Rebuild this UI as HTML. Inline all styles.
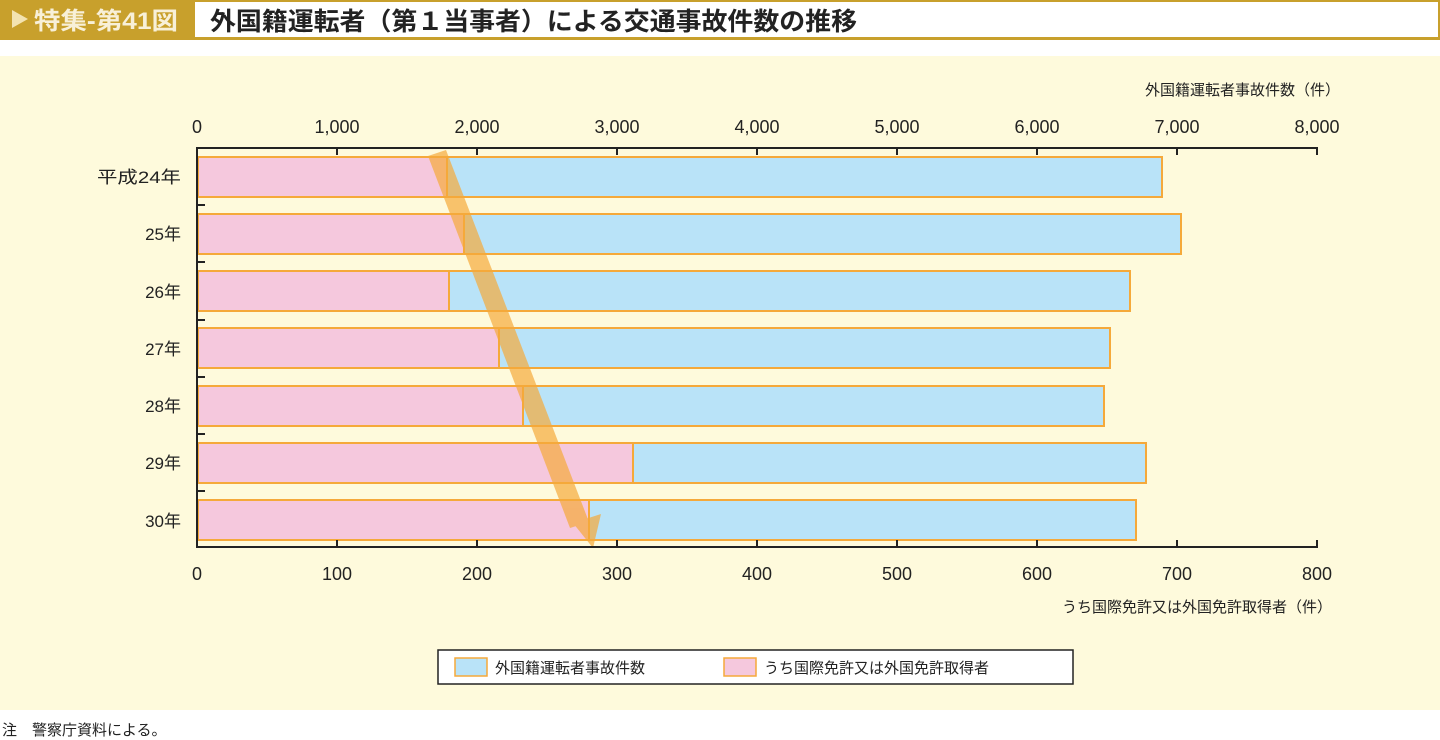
<!DOCTYPE html><html><head><meta charset="utf-8"><style>
body{margin:0;width:1440px;height:740px;background:#fff;font-family:"Liberation Sans","Noto Sans CJK JP",sans-serif;overflow:hidden;position:relative}
</style></head><body>
<svg width="1440" height="740" style="position:absolute;left:0;top:0" font-family="Liberation Sans, Noto Sans CJK JP, sans-serif">
<rect x="0" y="0" width="1440" height="40" fill="#c8a02c"/>
<rect x="195" y="2" width="1243" height="35" fill="#fff"/>
<polygon points="12,10 12,28 28,19" fill="#f3e3b0"/>
<text x="34" y="29" font-size="24" font-weight="bold" fill="#f8f0d8" textLength="144" lengthAdjust="spacingAndGlyphs">特集-第41図</text>
<text x="210" y="30" font-size="25" font-weight="bold" fill="#222" textLength="647" lengthAdjust="spacingAndGlyphs">外国籍運転者（第１当事者）による交通事故件数の推移</text>
<rect x="0" y="56" width="1440" height="654" fill="#fefadc"/>
<text x="1340" y="95" font-size="15" text-anchor="end" fill="#222">外国籍運転者事故件数（件）</text>
<g font-size="18" fill="#222" text-anchor="middle">
<text x="197" y="133">0</text><text x="337" y="133">1,000</text><text x="477" y="133">2,000</text><text x="617" y="133">3,000</text><text x="757" y="133">4,000</text><text x="897" y="133">5,000</text><text x="1037" y="133">6,000</text><text x="1177" y="133">7,000</text><text x="1317" y="133">8,000</text>
<text x="197" y="580">0</text><text x="337" y="580">100</text><text x="477" y="580">200</text><text x="617" y="580">300</text><text x="757" y="580">400</text><text x="897" y="580">500</text><text x="1037" y="580">600</text><text x="1177" y="580">700</text><text x="1317" y="580">800</text>
</g>
<text x="1332" y="612" font-size="15" text-anchor="end" fill="#222">うち国際免許又は外国免許取得者（件）</text>
<g font-size="17" fill="#222" text-anchor="end">
<text x="181" y="183" textLength="84" lengthAdjust="spacingAndGlyphs">平成24年</text><text x="181" y="240">25年</text><text x="181" y="298">26年</text><text x="181" y="355">27年</text><text x="181" y="412">28年</text><text x="181" y="469">29年</text><text x="181" y="527">30年</text>
</g>
<g stroke="#f5a93a" stroke-width="2">
<rect x="198" y="157" width="964" height="40" fill="#b9e3f8"/><rect x="198" y="157" width="249" height="40" fill="#f5c8dd"/>
<rect x="198" y="214" width="983" height="40" fill="#b9e3f8"/><rect x="198" y="214" width="266" height="40" fill="#f5c8dd"/>
<rect x="198" y="271" width="932" height="40" fill="#b9e3f8"/><rect x="198" y="271" width="251" height="40" fill="#f5c8dd"/>
<rect x="198" y="328" width="912" height="40" fill="#b9e3f8"/><rect x="198" y="328" width="301" height="40" fill="#f5c8dd"/>
<rect x="198" y="386" width="906" height="40" fill="#b9e3f8"/><rect x="198" y="386" width="325" height="40" fill="#f5c8dd"/>
<rect x="198" y="443" width="948" height="40" fill="#b9e3f8"/><rect x="198" y="443" width="435" height="40" fill="#f5c8dd"/>
<rect x="198" y="500" width="938" height="40" fill="#b9e3f8"/><rect x="198" y="500" width="391" height="40" fill="#f5c8dd"/>
</g>
<g opacity="0.7" fill="#f5a93a">
<polygon points="428,156 446,150 589,522 570,528"/>
<polygon points="573,523 601,514 593,548"/>
</g>
<g stroke="#222" stroke-width="2" fill="none">
<line x1="197" y1="148" x2="1318" y2="148"/><line x1="197" y1="547" x2="1318" y2="547"/>
<line x1="197" y1="147" x2="197" y2="548"/>
<path d="M337 148v7M477 148v7M617 148v7M757 148v7M897 148v7M1037 148v7M1177 148v7M1317 148v7"/>
<path d="M337 547v-7M477 547v-7M617 547v-7M757 547v-7M897 547v-7M1037 547v-7M1177 547v-7M1317 547v-7"/>
<path d="M197 205h8M197 262h8M197 320h8M197 377h8M197 434h8M197 491h8"/>
</g>
<rect x="438" y="650" width="635" height="34" fill="#fff" stroke="#222" stroke-width="1.5"/>
<rect x="455" y="658" width="32" height="18" fill="#b9e3f8" stroke="#f5a93a" stroke-width="1.5"/>
<text x="495" y="673" font-size="15" fill="#222">外国籍運転者事故件数</text>
<rect x="724" y="658" width="32" height="18" fill="#f5c8dd" stroke="#f5a93a" stroke-width="1.5"/>
<text x="764" y="673" font-size="15" fill="#222">うち国際免許又は外国免許取得者</text>
<text x="2" y="735" font-size="15" fill="#222">注　警察庁資料による。</text>
</svg>
</body></html>
